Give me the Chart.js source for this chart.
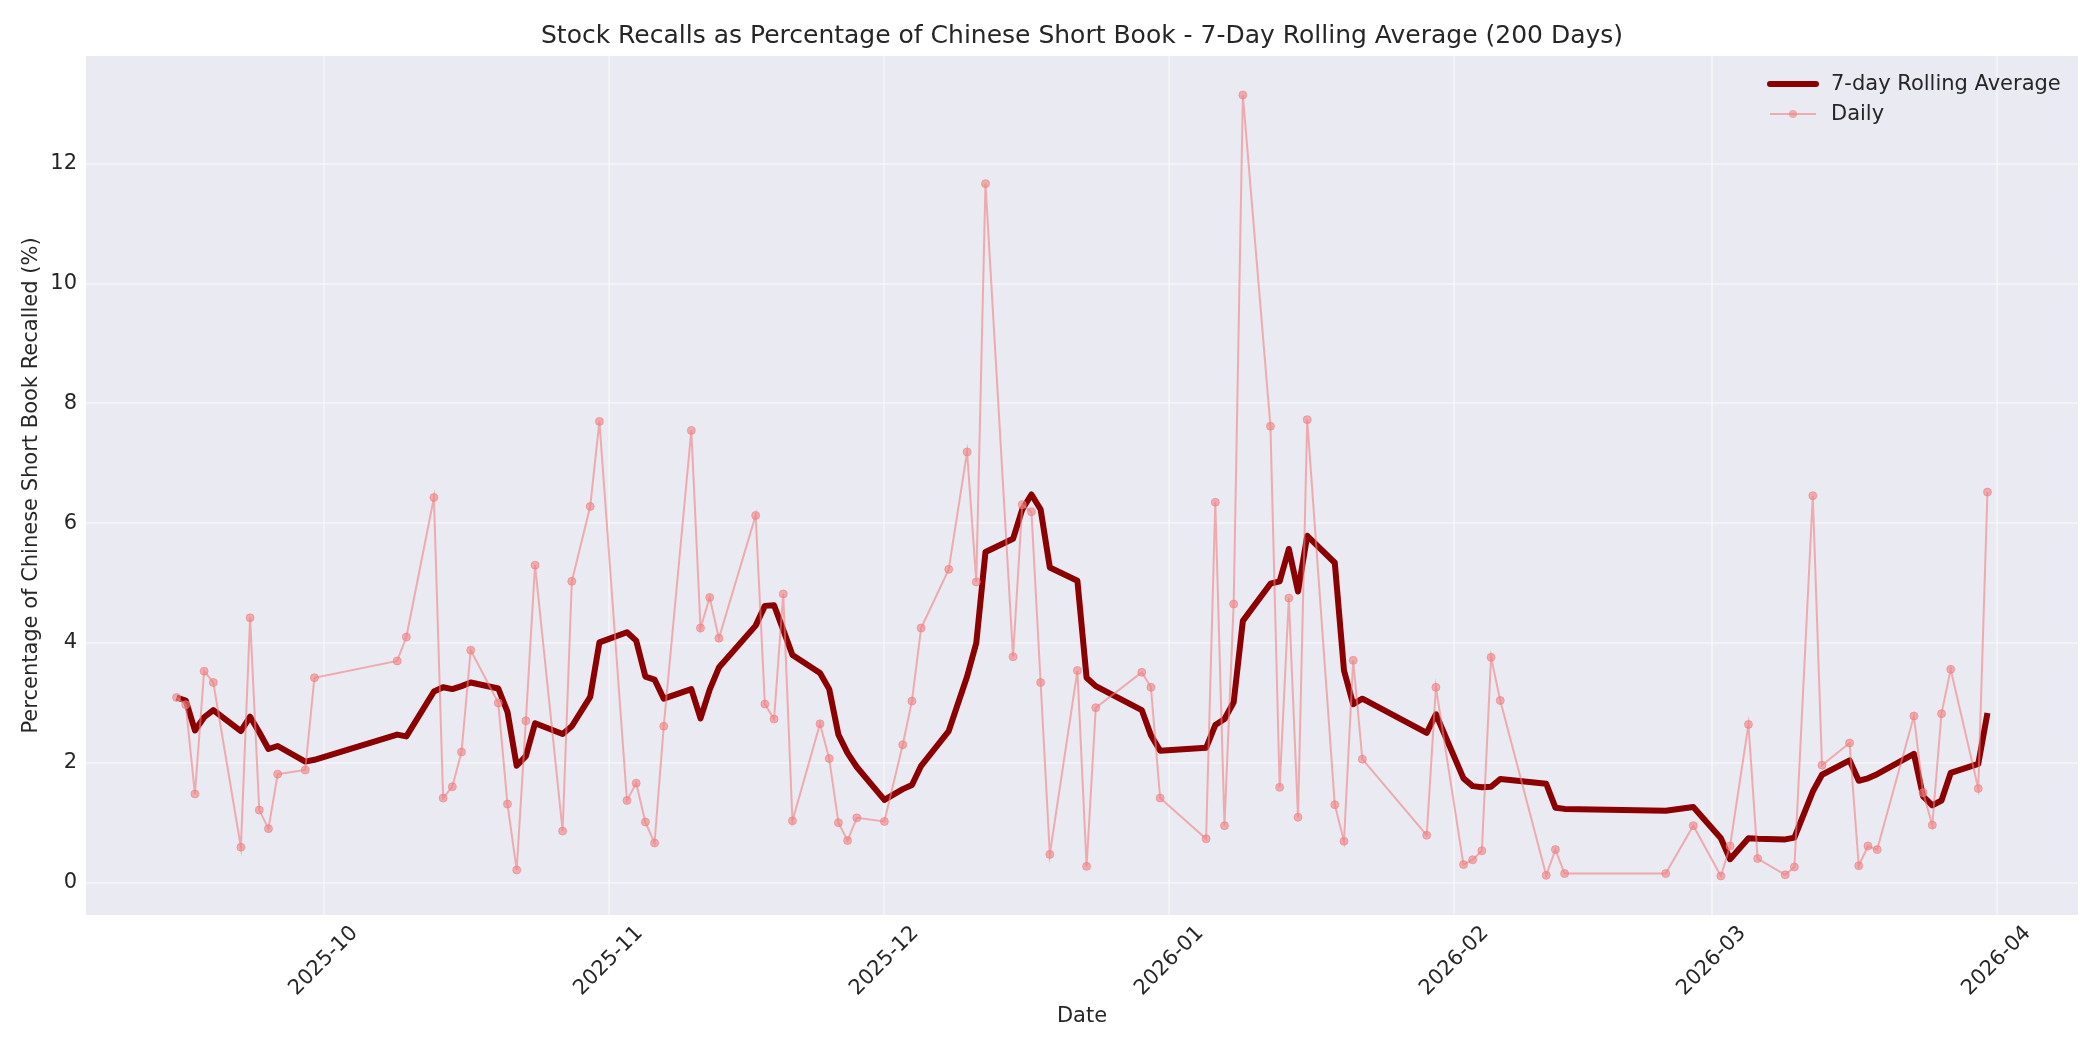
<!DOCTYPE html>
<html>
<head>
<meta charset="utf-8">
<title>Stock Recalls - Chinese Short Book</title>
<script src="https://cdn.jsdelivr.net/npm/chart.js@4.4.1/dist/chart.umd.min.js"></script>
<style>
    html, body { margin: 0; padding: 0; background: #ffffff; }
    #wrap { width: 2100px; height: 1050px; }
</style>
</head>
<body>
<div id="wrap"><canvas id="grafico" width="2100" height="1050"></canvas></div>
<script>
// trading days
var dates = [
    '2025-09-15','2025-09-16','2025-09-17','2025-09-18','2025-09-19','2025-09-22','2025-09-23','2025-09-24','2025-09-25','2025-09-26','2025-09-29','2025-09-30',
    '2025-10-09','2025-10-10','2025-10-13','2025-10-14','2025-10-15','2025-10-16','2025-10-17','2025-10-20','2025-10-21','2025-10-22','2025-10-23','2025-10-24','2025-10-27','2025-10-28','2025-10-30','2025-10-31',
    '2025-11-03','2025-11-04','2025-11-05','2025-11-06','2025-11-07','2025-11-10','2025-11-11','2025-11-12','2025-11-13','2025-11-17','2025-11-18','2025-11-19','2025-11-20','2025-11-21','2025-11-24','2025-11-25','2025-11-26','2025-11-27','2025-11-28',
    '2025-12-01','2025-12-03','2025-12-04','2025-12-05','2025-12-08','2025-12-10','2025-12-11','2025-12-12','2025-12-15','2025-12-16','2025-12-17','2025-12-18','2025-12-19','2025-12-22','2025-12-23','2025-12-24','2025-12-29','2025-12-30','2025-12-31',
    '2026-01-05','2026-01-06','2026-01-07','2026-01-08','2026-01-09','2026-01-12','2026-01-13','2026-01-14','2026-01-15','2026-01-16','2026-01-19','2026-01-20','2026-01-21','2026-01-22','2026-01-29','2026-01-30',
    '2026-02-02','2026-02-03','2026-02-04','2026-02-05','2026-02-06','2026-02-11','2026-02-12','2026-02-13','2026-02-24','2026-02-27',
    '2026-03-02','2026-03-03','2026-03-05','2026-03-06','2026-03-09','2026-03-10','2026-03-12','2026-03-13','2026-03-16','2026-03-17','2026-03-18','2026-03-19','2026-03-23','2026-03-24','2026-03-25','2026-03-26','2026-03-27','2026-03-30','2026-03-31'
]

// daily recalls (% of short book)
var dailyPct = [
    3.09, 2.97, 1.48, 3.53, 3.34, 0.59, 4.42, 1.21, 0.90, 1.81, 1.88, 3.42,
    3.70, 4.10, 6.43, 1.41, 1.60, 2.18, 3.88, 3.00, 1.31, 0.21, 2.70, 5.30, 0.86, 5.03, 6.28, 7.70,
    1.37, 1.66, 1.01, 0.66, 2.61, 7.55, 4.25, 4.76, 4.08, 6.13, 2.98, 2.73, 4.82, 1.03, 2.65, 2.07, 1.00, 0.70, 1.08,
    1.02, 2.30, 3.03, 4.25, 5.23, 7.19, 5.02, 11.67, 3.77, 6.31, 6.19, 3.34, 0.47, 3.54, 0.27, 2.92, 3.51, 3.26, 1.41,
    0.73, 6.35, 0.95, 4.65, 13.15, 7.62, 1.59, 4.75, 1.09, 7.73, 1.30, 0.69, 3.71, 2.06, 0.79, 3.26,
    0.30, 0.38, 0.53, 3.76, 3.04, 0.12, 0.55, 0.15, 0.15, 0.95,
    0.11, 0.61, 2.64, 0.40, 0.13, 0.26, 6.46, 1.96, 2.33, 0.28, 0.61, 0.55, 2.78, 1.50, 0.96, 2.82, 3.56, 1.57, 6.52
]

// 7-day rolling average
var rollingAvg = [
    3.09, 3.04, 2.54, 2.76, 2.88, 2.53, 2.77, 2.51, 2.23, 2.28, 2.02, 2.05,
    2.47, 2.44, 3.19, 3.26, 3.23, 3.28, 3.34, 3.24, 2.85, 1.95, 2.11, 2.66, 2.48, 2.61, 3.10, 4.01,
    4.18, 4.04, 3.44, 3.39, 3.07, 3.23, 2.74, 3.22, 3.59, 4.29, 4.62, 4.63, 4.22, 3.80, 3.50, 3.23, 2.47, 2.16, 1.93,
    1.38, 1.56, 1.63, 1.95, 2.53, 3.44, 4.00, 5.52, 5.74, 6.23, 6.48, 6.23, 5.26, 5.04, 3.42, 3.28, 2.88, 2.46, 2.20,
    2.25, 2.63, 2.73, 3.01, 4.37, 4.99, 5.03, 5.57, 4.86, 5.79, 5.34, 3.54, 2.98, 3.07, 2.50, 2.81,
    1.74, 1.61, 1.59, 1.60, 1.73, 1.65, 1.25, 1.23, 1.20, 1.26,
    0.74, 0.39, 0.74, 0.73, 0.72, 0.75, 1.52, 1.80, 2.04, 1.70, 1.74, 1.81, 2.15, 1.44, 1.29, 1.37, 1.83, 1.98, 2.83
]

// tick labels
var monthTicks = ['2025-10','2025-11','2025-12','2026-01','2026-02','2026-03','2026-04']
var yTicks = [0, 2, 4, 6, 8, 10, 12]

var FONTE = 'DejaVu Sans'
var COR_TEXTO = '#262626'
var COR_GRADE = 'rgba(255,255,255,0.4)'

/**
* @description: converts 'YYYY-MM-DD' or 'YYYY-MM' to a UTC timestamp
*/
function toMs(s){
    if(s.length == 7){ s = s + '-01' }
    return Date.parse(s + 'T00:00:00Z')
}

/**
* @description: builds the x/y point list for one series
*/
function pontos(valores){
    var lista = []
    dates.forEach(function(d, i){
        lista.push({ x: toMs(d), y: valores[i] })
    })
    return lista
}

// plot area background and white page
var fundo = {
    id: 'fundo',
    beforeDraw: function(chart){
        var ctx = chart.ctx, a = chart.chartArea
        ctx.save()
        ctx.fillStyle = '#ffffff'
        ctx.fillRect(0, 0, chart.width, chart.height)
        ctx.fillStyle = '#EAEAF2'
        ctx.fillRect(a.left, a.top, a.right - a.left, a.bottom - a.top)
        ctx.restore()
    }
}

// rotated month labels (centred on tick) and the legend inside the plot
var extras = {
    id: 'extras',
    afterDraw: function(chart){
        var ctx = chart.ctx, a = chart.chartArea, sx = chart.scales.x
        ctx.save()
        ctx.font = '21px "' + FONTE + '"'
        ctx.fillStyle = COR_TEXTO
        ctx.textAlign = 'center'
        ctx.textBaseline = 'middle'
        sx.ticks.forEach(function(t, i){
            var px = sx.getPixelForValue(t.value)
            ctx.save()
            ctx.translate(px, a.bottom + 46)
            ctx.rotate(-Math.PI / 4)
            ctx.fillText(monthTicks[i], 0, 0)
            ctx.restore()
        })

        // legend
        var ds = chart.data.datasets
        var y1 = a.top + 28, y2 = a.top + 58
        var x0 = a.right - 308, x1 = a.right - 262, xt = a.right - 247

        ctx.lineCap = 'round'
        ctx.strokeStyle = ds[1].borderColor
        ctx.lineWidth = ds[1].borderWidth
        ctx.beginPath(); ctx.moveTo(x0, y1); ctx.lineTo(x1, y1); ctx.stroke()

        ctx.lineCap = 'butt'
        ctx.strokeStyle = ds[0].borderColor
        ctx.lineWidth = ds[0].borderWidth
        ctx.beginPath(); ctx.moveTo(x0, y2); ctx.lineTo(x1, y2); ctx.stroke()
        ctx.fillStyle = ds[0].pointBackgroundColor
        ctx.beginPath(); ctx.arc((x0 + x1) / 2, y2, ds[0].pointRadius, 0, Math.PI * 2); ctx.fill()

        ctx.fillStyle = COR_TEXTO
        ctx.textAlign = 'left'
        ctx.fillText(ds[1].label, xt, y1 + 1)
        ctx.fillText(ds[0].label, xt, y2 + 1)
        ctx.restore()
    }
}

function grafico(){
    try{
        var t0 = toMs(dates[0]), t1 = toMs(dates[dates.length - 1])
        var vMin = Math.min.apply(null, dailyPct), vMax = Math.max.apply(null, dailyPct)
        var mx = (t1 - t0) * 0.05, my = (vMax - vMin) * 0.05

        Chart.defaults.font.family = FONTE
        Chart.defaults.color = COR_TEXTO

        new Chart(document.getElementById('grafico').getContext('2d'), {
            type: 'line',
            data: {
                datasets: [
                    {
                        label: 'Daily',
                        data: pontos(dailyPct),
                        order: 0,
                        borderColor: 'rgba(240,128,128,0.6)',
                        borderWidth: 2,
                        pointRadius: 4,
                        pointBackgroundColor: 'rgba(240,128,128,0.6)',
                        pointBorderColor: 'rgba(240,128,128,0.6)',
                        pointBorderWidth: 1,
                        tension: 0
                    },
                    {
                        label: '7-day Rolling Average',
                        data: pontos(rollingAvg),
                        order: 1,
                        borderColor: '#8B0000',
                        borderWidth: 6,
                        borderJoinStyle: 'round',
                        pointRadius: 0,
                        tension: 0
                    }
                ]
            },
            options: {
                responsive: false,
                animation: false,
                devicePixelRatio: 1,
                layout: { padding: { left: 0, right: 22, top: 0, bottom: 0 } },
                plugins: {
                    legend: { display: false },
                    tooltip: { enabled: false },
                    title: {
                        display: true,
                        fullSize: false,
                        text: 'Stock Recalls as Percentage of Chinese Short Book - 7-Day Rolling Average (200 Days)',
                        color: COR_TEXTO,
                        font: { family: FONTE, size: 25, weight: 'normal' },
                        padding: { top: 21, bottom: 5 }
                    }
                },
                scales: {
                    x: {
                        type: 'linear',
                        min: t0 - mx,
                        max: t1 + mx,
                        afterBuildTicks: function(scale){
                            scale.ticks = monthTicks.map(function(m){ return { value: toMs(m) } })
                        },
                        afterFit: function(scale){ scale.height = 135 },
                        ticks: { display: false },
                        grid: { color: COR_GRADE, lineWidth: 2, drawTicks: false },
                        border: { display: false },
                        title: {
                            display: true,
                            text: 'Date',
                            color: COR_TEXTO,
                            font: { family: FONTE, size: 21 },
                            padding: { top: 0, bottom: 21 }
                        }
                    },
                    y: {
                        type: 'linear',
                        min: vMin - my,
                        max: vMax + my,
                        afterBuildTicks: function(scale){
                            scale.ticks = yTicks.map(function(v){ return { value: v } })
                        },
                        afterFit: function(scale){ scale.width = 86 },
                        ticks: {
                            color: COR_TEXTO,
                            padding: 9,
                            font: { family: FONTE, size: 21 },
                            callback: function(v){ return String(v) }
                        },
                        grid: { color: COR_GRADE, lineWidth: 2, drawTicks: false },
                        border: { display: false },
                        title: {
                            display: true,
                            text: 'Percentage of Chinese Short Book Recalled (%)',
                            color: COR_TEXTO,
                            font: { family: FONTE, size: 21 },
                            padding: { top: 19, bottom: 0 }
                        }
                    }
                }
            },
            plugins: [fundo, extras]
        })
    }catch(e){ console.log(e) }
}

grafico()
</script>
</body>
</html>
